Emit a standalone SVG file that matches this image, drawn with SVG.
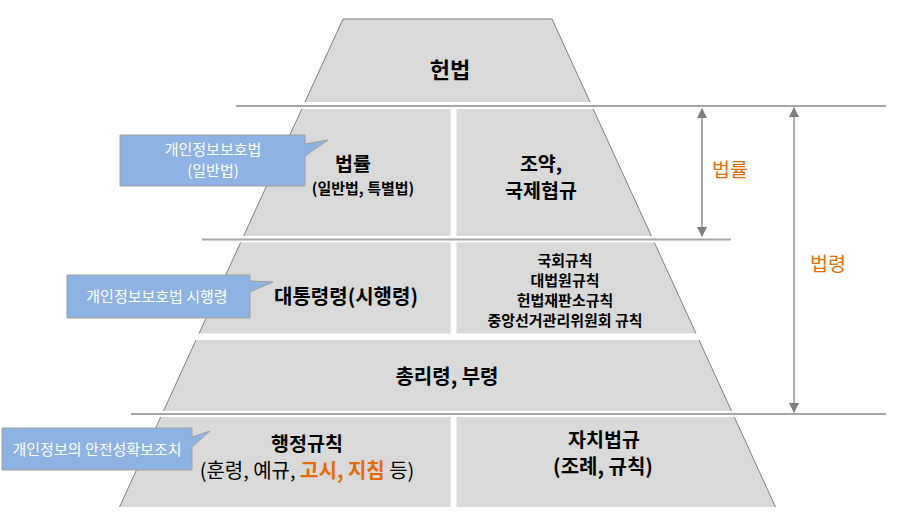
<svg xmlns="http://www.w3.org/2000/svg" width="902" height="516" viewBox="0 0 902 516">
<style>
.seg{fill:#d9d9d9;stroke:none}
.edge{stroke:#7f7f7f;stroke-width:1;fill:none}
.hl{stroke:#a6a6a6;stroke-width:2}
.t{font-family:"Malgun Gothic","Noto Sans CJK KR",sans-serif;fill:#000;text-anchor:middle}
.b{font-weight:bold}
.call{fill:#8db3e2;stroke:#a0a0a0;stroke-width:1}
.ct{font-family:"Malgun Gothic","Noto Sans CJK KR",sans-serif;fill:#fff;font-size:15px;text-anchor:middle}
.or{fill:#e46c0a}
</style>
<defs>
<marker id="ah2" viewBox="0 0 10 10" refX="9" refY="5" markerWidth="10" markerHeight="10" orient="auto-start-reverse" markerUnits="userSpaceOnUse"><path d="M0,0L10,5L0,10z" fill="#7f7f7f"/></marker>
</defs>
<rect width="902" height="516" fill="#fff"/>

<g id="n-constitution">
<polygon class="seg" points="343,19 552,19 590,102 305,102"/>
<path class="edge" d="M343,19L552,19L590,102M343,19L305,102"/>
<text class="t b" x="450" y="78" font-size="22">헌법</text>
</g>

<g id="n-law">
<polygon class="seg" points="301.8,109 450.5,109 450.5,236 243.6,236"/>
<path class="edge" d="M301.8,109L243.6,236"/>
<text class="t b" x="353" y="171" font-size="19.5">법률</text>
<text class="t b" x="363" y="194" font-size="15">(일반법, 특별법)</text>
</g>

<g id="n-treaty">
<polygon class="seg" points="456.5,109 593.2,109 651.4,236 456.5,236"/>
<path class="edge" d="M593.2,109L651.4,236"/>
<text class="t b" x="541" y="171" font-size="19.5">조약,</text>
<text class="t b" x="541" y="198" font-size="19.5">국제협규</text>
</g>

<g id="n-decree">
<polygon class="seg" points="240.6,242.5 450.5,242.5 450.5,333.5 199,333.5"/>
<path class="edge" d="M240.6,242.5L199,333.5"/>
<text class="t b" x="346" y="304" font-size="20">대통령령(시행령)</text>
</g>

<g id="n-rules">
<polygon class="seg" points="456.5,242.5 654.4,242.5 696,333.5 456.5,333.5"/>
<path class="edge" d="M654.4,242.5L696,333.5"/>
<text class="t b" x="565" y="266" font-size="15">국회규칙</text>
<text class="t b" x="565" y="286" font-size="15">대법원규칙</text>
<text class="t b" x="565" y="306" font-size="15">헌법재판소규칙</text>
<text class="t b" x="565" y="326" font-size="15">중앙선거관리위원회 규칙</text>
</g>

<g id="n-ordinance">
<polygon class="seg" points="196,340 699,340 731.5,411 163.5,411"/>
<path class="edge" d="M196,340L163.5,411M699,340L731.5,411"/>
<text class="t b" x="447" y="384" font-size="20">총리령, 부령</text>
</g>

<g id="n-admin">
<polygon class="seg" points="160.7,417 450.5,417 450.5,507 119.5,507"/>
<path class="edge" d="M160.7,417L119.5,507"/>
<text class="t b" x="307" y="451" font-size="19.5">행정규칙</text>
<text class="t" x="307" y="478" font-size="20">(훈령, 예규, <tspan class="or b">고시, 지침</tspan> 등)</text>
</g>

<g id="n-local">
<polygon class="seg" points="456.5,417 734.3,417 775.5,507 456.5,507"/>
<path class="edge" d="M734.3,417L775.5,507"/>
<text class="t b" x="604" y="447" font-size="19.5">자치법규</text>
<text class="t b" x="603" y="474" font-size="20">(조례, 규칙)</text>
</g>

<g id="connectors">
<line class="hl" x1="236" y1="106" x2="886" y2="106"/>
<line class="hl" x1="202" y1="239.5" x2="731" y2="239.5"/>
<line class="hl" x1="131" y1="414" x2="886" y2="414"/>
<line x1="702" y1="109" x2="702" y2="236" stroke="#a6a6a6" stroke-width="2" marker-start="url(#ah2)" marker-end="url(#ah2)"/>
<line x1="794" y1="108" x2="794" y2="412" stroke="#7f7f7f" stroke-width="1.3" marker-start="url(#ah2)" marker-end="url(#ah2)"/>
</g>

<g id="n-label-law">
<text class="t or" x="730" y="177" font-size="19.5">법률</text>
</g>
<g id="n-label-statute">
<text class="t or" x="828" y="271" font-size="19.5">법령</text>
</g>

<g id="n-callout1">
<path class="call" d="M120,135H305V144L328,140L305,156V186H120Z"/>
<text class="ct" x="213" y="155">개인정보보호법</text>
<text class="ct" x="213" y="176">(일반법)</text>
</g>
<g id="n-callout2">
<path class="call" d="M67,275H250V281L273,282L250,292V318H67Z"/>
<text class="ct" x="157" y="302">개인정보보호법 시행령</text>
</g>
<g id="n-callout3">
<path class="call" d="M2,428H192V437L210,431L192,447V470H2Z"/>
<text class="ct" x="97" y="455">개인정보의 안전성확보조치</text>
</g>
</svg>
